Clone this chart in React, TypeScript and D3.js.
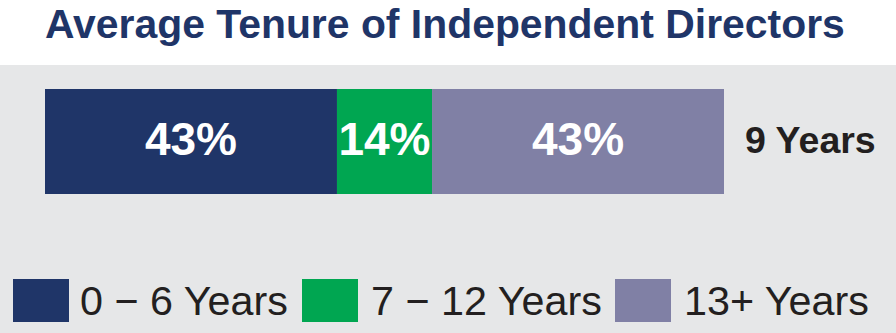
import React, { useEffect, useRef } from "react";
import * as d3 from "d3";

const title = "Average Tenure of Independent Directors";
const categories = ["0 − 6 Years", "7 − 12 Years", "13+ Years"];
const values = [43, 14, 43];
const colors = ["#1f3568", "#00a651", "#8080a5"];
const averageLabel = "9 Years";

const W = 896;
const H = 333;
const FONT = "'Liberation Sans', Arial, Helvetica, sans-serif";

export default function App() {
  const ref = useRef<SVGSVGElement | null>(null);

  useEffect(() => {
    const svg = d3.select(ref.current);
    svg.selectAll("*").remove();

    svg.append("rect").attr("x", 0).attr("y", 0).attr("width", W).attr("height", H).attr("fill", "#ffffff");
    svg.append("rect").attr("x", 0).attr("y", 65).attr("width", W).attr("height", H - 65).attr("fill", "#e6e7e8");

    svg.append("text")
      .attr("x", 45).attr("y", 37.5)
      .attr("font-family", FONT).attr("font-weight", "bold").attr("font-size", 40.9)
      .attr("fill", "#1f3568")
      .text(title);

    const total = d3.sum(values);
    const x = d3.scaleLinear().domain([0, total]).range([45, 724]);
    const cum = values.map((v, i) => d3.sum(values.slice(0, i)));
    const barTop = 89, barH = 105;

    const g = svg.append("g");
    g.selectAll("rect.seg").data(values).join("rect")
      .attr("class", "seg")
      .attr("x", (d, i) => x(cum[i]))
      .attr("y", barTop)
      .attr("width", (d) => x(d) - x(0))
      .attr("height", barH)
      .attr("fill", (d, i) => colors[i]);

    g.selectAll("text.lab").data(values).join("text")
      .attr("class", "lab")
      .attr("x", (d, i) => x(cum[i] + d / 2))
      .attr("y", 155)
      .attr("text-anchor", "middle")
      .attr("font-family", FONT).attr("font-weight", "bold").attr("font-size", 46)
      .attr("fill", "#ffffff")
      .text((d) => `${d}%`);

    svg.append("text")
      .attr("x", 745).attr("y", 153)
      .attr("font-family", FONT).attr("font-weight", "bold").attr("font-size", 37.5)
      .attr("fill", "#231f20")
      .text(averageLabel);

    const legendX = [13, 302, 615];
    const legendTextX = [80, 371, 684];
    const leg = svg.append("g");
    categories.forEach((c, i) => {
      leg.append("rect")
        .attr("x", legendX[i]).attr("y", 279).attr("width", 56).attr("height", 43)
        .attr("fill", colors[i]);
      leg.append("text")
        .attr("x", legendTextX[i]).attr("y", 315)
        .attr("font-family", FONT).attr("font-size", 41.3)
        .attr("fill", "#231f20")
        .text(c);
    });
  }, []);

  return (
    <svg ref={ref} width={W} height={H} style={{ position: "absolute", left: 0, top: 0, display: "block" }} />
  );
}
